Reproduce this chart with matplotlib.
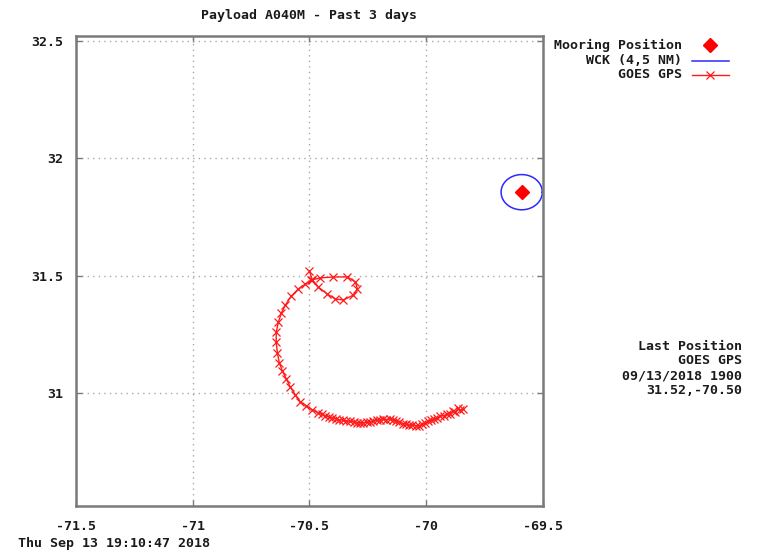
import numpy as np
import matplotlib
matplotlib.use("Agg")
import matplotlib.pyplot as plt

# GOES GPS fixes, oldest first (lon, lat in degrees)
track_lon = [-69.843, -69.856, -69.862, -69.874, -69.886, -69.899, -69.912, -69.925,
             -69.938, -69.951, -69.964, -69.977, -69.990, -70.003, -70.016, -70.030,
             -70.044, -70.058, -70.072, -70.086, -70.100, -70.114, -70.128, -70.142,
             -70.156, -70.170, -70.184, -70.198, -70.212, -70.226, -70.240, -70.254,
             -70.268, -70.282, -70.296, -70.310, -70.326, -70.341, -70.356, -70.371,
             -70.386, -70.401, -70.416, -70.431, -70.446, -70.461,
             -70.487, -70.513, -70.539, -70.560, -70.582, -70.599, -70.616, -70.629,
             -70.637, -70.642, -70.642, -70.633, -70.620, -70.603, -70.577, -70.547,
             -70.517, -70.491, -70.453, -70.397, -70.337, -70.303, -70.294, -70.311,
             -70.354, -70.388, -70.423, -70.461, -70.487, -70.500]
track_lat = [30.932, 30.926, 30.934, 30.917, 30.922, 30.912, 30.910, 30.902,
             30.904, 30.893, 30.890, 30.884, 30.879, 30.872, 30.866, 30.861,
             30.860, 30.864, 30.862, 30.867, 30.870, 30.877, 30.882, 30.886,
             30.889, 30.887, 30.891, 30.886, 30.883, 30.880, 30.878, 30.875,
             30.873, 30.872, 30.874, 30.876, 30.879, 30.881, 30.884, 30.886,
             30.890, 30.894, 30.898, 30.903, 30.909, 30.915,
             30.928, 30.945, 30.962, 30.992, 31.026, 31.061, 31.095, 31.129,
             31.172, 31.215, 31.258, 31.301, 31.340, 31.374, 31.413, 31.443,
             31.464, 31.481, 31.490, 31.494, 31.494, 31.473, 31.443, 31.417,
             31.396, 31.400, 31.421, 31.451, 31.481, 31.520]

mooring_lon = -69.590
mooring_lat = 31.855
watch_radius_nm = 4.5

x_ticks = [-71.5, -71, -70.5, -70, -69.5]
x_labels = ["-71.5", "-71", "-70.5", "-70", "-69.5"]
y_ticks = [31, 31.5, 32, 32.5]
y_labels = ["31", "31.5", "32", "32.5"]

title = "Payload A040M - Past 3 days"
stamp = "Thu Sep 13 19:10:47 2018"
last_info = ["Last Position", "GOES GPS", "09/13/2018 1900", "31.52,-70.50"]

W, H = 761, 552
FONT = dict(family="DejaVu Sans Mono", weight="bold", size=9.5, color="#1a1a1a")
SPINE = "#7a7a7a"


def fx(px):
    return px / W


def fy(py):
    return 1 - py / H


fig = plt.figure(figsize=(W / 100, H / 100), dpi=100)
ax = fig.add_axes([fx(76), fy(505.7), (542.7 - 76) / W, (505.7 - 36) / H])

ax.set_xlim(-71.5, -69.5)
ax.set_ylim(30.52, 32.52)

# watch circle around the mooring, radius in nautical miles
theta = np.linspace(0, 2 * np.pi, 200)
r_lat = watch_radius_nm / 60.0
r_lon = r_lat / np.cos(np.radians(mooring_lat))
ax.plot(mooring_lon + r_lon * np.cos(theta), mooring_lat + r_lat * np.sin(theta),
        color="#2a2aff", lw=1.1)
ax.plot(track_lon, track_lat, color="#ff1a1a", lw=1.0, marker="x", ms=5.5, mew=0.9)
ax.plot([mooring_lon], [mooring_lat], marker="D", color="#ff0000", ms=7, ls="none")

ax.set_xticks(x_ticks)
ax.set_xticklabels(x_labels, **FONT)
ax.set_yticks(y_ticks)
ax.set_yticklabels(y_labels, **FONT)
ax.tick_params(direction="in", length=4, width=1, color=SPINE, top=True, right=True)
ax.tick_params(axis="x", pad=10)
ax.tick_params(axis="y", pad=9)
ax.grid(True, color="#a8a8a8", ls=(0, (1, 3)), lw=1)
for s in ax.spines.values():
    s.set_color(SPINE)
    s.set_linewidth(1.8)

fig.text(fx(309), fy(15), title, ha="center", va="center", **FONT)
fig.text(fx(18), fy(543), stamp, ha="left", va="center", **FONT)

# key, right-aligned labels with samples to the right
key_rows = [45, 61, 75]
fig.text(fx(682), fy(key_rows[0]), "Mooring Position", ha="right", va="center", **FONT)
fig.text(fx(682), fy(key_rows[1]), "WCK (4,5 NM)", ha="right", va="center", **FONT)
fig.text(fx(682), fy(key_rows[2]), "GOES GPS", ha="right", va="center", **FONT)
fig.lines.append(plt.Line2D([fx(710)], [fy(key_rows[0])], marker="D", color="#ff0000",
                            ms=7, ls="none", transform=fig.transFigure))
fig.lines.append(plt.Line2D([fx(692), fx(729)], [fy(key_rows[1])] * 2, color="#2a2aff",
                            lw=1.1, transform=fig.transFigure))
fig.lines.append(plt.Line2D([fx(692), fx(729)], [fy(key_rows[2])] * 2, color="#ff1a1a",
                            lw=1.0, transform=fig.transFigure))
fig.lines.append(plt.Line2D([fx(710)], [fy(key_rows[2])], marker="x", color="#ff1a1a",
                            ms=5.5, mew=0.9, ls="none", transform=fig.transFigure))

for i, line in enumerate(last_info):
    fig.text(fx(742), fy(346 + 15 * i), line, ha="right", va="center", **FONT)

fig.savefig("out.png", dpi=100, facecolor="white")
